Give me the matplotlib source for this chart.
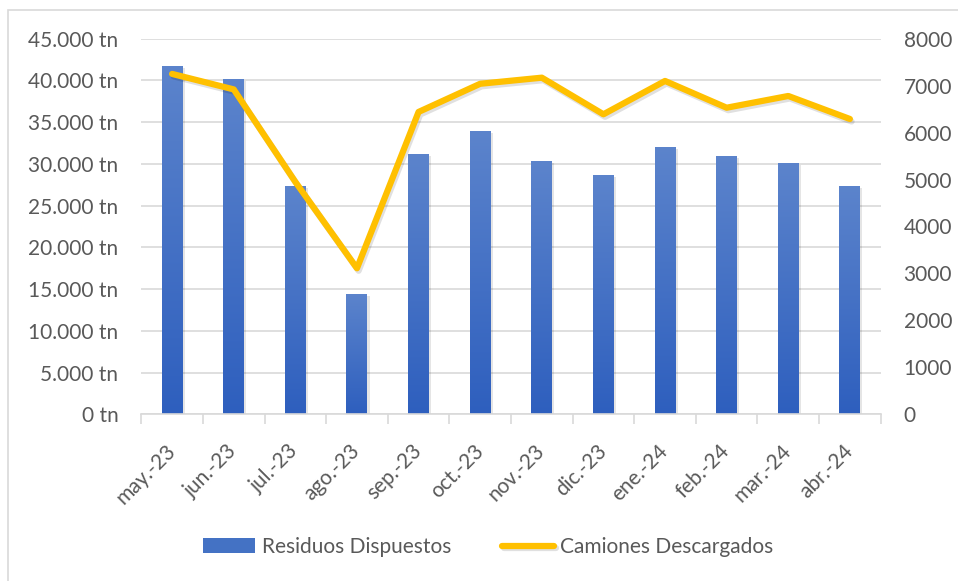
import numpy as np
import matplotlib
matplotlib.use("Agg")
import matplotlib.pyplot as plt
from matplotlib import patheffects as pe
from matplotlib.patches import Rectangle, Patch
from matplotlib.ticker import FuncFormatter, FixedLocator
from matplotlib.colors import LinearSegmentedColormap

plt.rcParams['font.family'] = ['Lato', 'DejaVu Sans']

months = ["may.-23", "jun.-23", "jul.-23", "ago.-23", "sep.-23", "oct.-23",
          "nov.-23", "dic.-23", "ene.-24", "feb.-24", "mar.-24", "abr.-24"]
residuos = [41700, 40200, 27350, 14400, 31200, 33950,
            30350, 28650, 32000, 30950, 30100, 27350]
camiones = [7250, 6920, 4950, 3110, 6440, 7040,
            7170, 6390, 7100, 6530, 6780, 6290]
left_ticks = [0, 5000, 10000, 15000, 20000, 25000, 30000, 35000, 40000, 45000]
right_ticks = [0, 1000, 2000, 3000, 4000, 5000, 6000, 7000, 8000]

TXT = '#595959'
GRID = '#d9d9d9'
FS = 15

fig = plt.figure(figsize=(9.58, 5.81), dpi=100)
# outer border (chart area frame, partially cropped)
fig.patches.append(Rectangle((8/958, -0.1), 1.1, 1 - 10/581 + 0.1,
                             transform=fig.transFigure, fill=False,
                             edgecolor='#d9d9d9', linewidth=1.2))

ax = fig.add_axes([141.3/958, 1 - 414.3/581, (880.7-141.3)/958, (414.3-38.7)/581])
ax2 = ax.twinx()

x = np.arange(len(months))
bars = ax.bar(x, residuos, width=0.34, color='#4472c4', zorder=2,
              label='Residuos Dispuestos')

# gradient fill
grad = np.linspace(0, 1, 256).reshape(-1, 1)
cmap = LinearSegmentedColormap.from_list('g', ['#2e5fbe', '#5c84cc'])
for b in bars:
    bx, by = b.get_x(), b.get_y()
    w, h = b.get_width(), b.get_height()
    b.set_path_effects([pe.SimplePatchShadow(offset=(1.5, -1.5), shadow_rgbFace='#000000', alpha=0.1),
                        pe.Normal()])
    im = ax.imshow(grad, cmap=cmap, aspect='auto', origin='lower',
                   extent=[bx, bx + w, by, by + h], zorder=2.1)
    im.set_clip_path(b)
ax.set_xlim(-0.5, len(months) - 0.5)
ax.set_ylim(0, 45000)

ax.set_yticks(left_ticks)
ax.yaxis.set_major_formatter(FuncFormatter(lambda v, p: f"{int(v):,}".replace(",", ".") + " tn"))
ax.grid(axis='y', color=GRID, linewidth=1.2, zorder=0)
ax.set_axisbelow(True)

ax.set_xticks(x)
ax.set_xticklabels(months, rotation=45, ha='right', va='center',
                   rotation_mode='anchor')
ax.xaxis.set_minor_locator(FixedLocator(np.arange(-0.5, len(months), 1)))
ax.tick_params(axis='x', which='major', length=0, pad=24, labelsize=FS, labelcolor=TXT)
ax.tick_params(axis='x', which='minor', length=7, width=1.2, color=GRID)
ax.tick_params(axis='y', length=0, pad=16.5, labelsize=FS, labelcolor=TXT)

for s in ['top', 'right', 'left']:
    ax.spines[s].set_visible(False)
ax.spines['bottom'].set_color(GRID)
ax.spines['bottom'].set_linewidth(1.2)

line, = ax2.plot(x, camiones, color='#ffc000', linewidth=4.5,
                 solid_capstyle='round', solid_joinstyle='round', zorder=3,
                 label='Camiones Descargados')
line.set_path_effects([pe.SimpleLineShadow(offset=(1.2, -1.8), shadow_color='#000000', alpha=0.12),
                       pe.Normal()])
ax2.set_ylim(0, 8000)
ax2.set_yticks(right_ticks)
ax2.tick_params(axis='y', length=0, pad=16.5, labelsize=FS, labelcolor=TXT)
for s in ax2.spines.values():
    s.set_visible(False)

h1 = Patch(facecolor='#4472c4', edgecolor='none')
leg = fig.legend([h1, line], ['Residuos Dispuestos', 'Camiones Descargados'],
                 loc='center', bbox_to_anchor=(488.5/958, 1 - 547/581),
                 ncol=2, frameon=False, fontsize=FS, labelcolor=TXT,
                 handlelength=2.5, handleheight=0.7, handletextpad=0.3,
                 columnspacing=2.45)

fig.savefig('out.png', dpi=100)
